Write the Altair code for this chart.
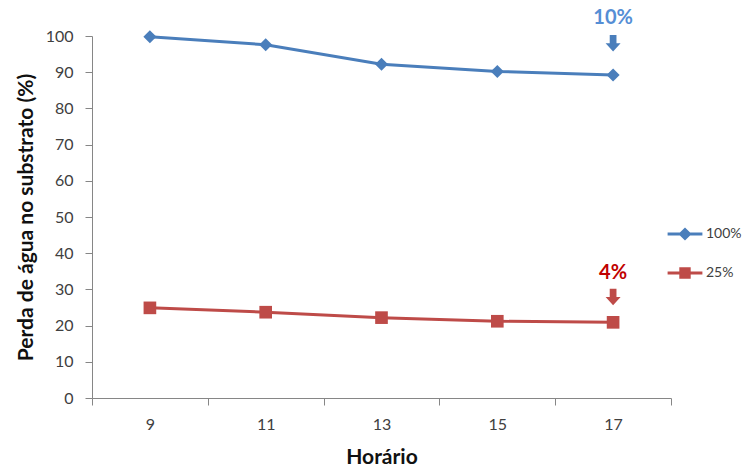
import altair as alt
import pandas as pd

# Water loss in the substrate over the day, two irrigation levels
horas = [9, 11, 13, 15, 17]
perda_100 = [99.8, 97.6, 92.2, 90.2, 89.2]
perda_25 = [24.9, 23.7, 22.2, 21.2, 20.9]
series = ["100%", "25%"]
cores = ["#4A7EBB", "#BE4B48"]

# Callouts above the last reading of each series
nota_texto = ["10%", "4%"]
nota_y_texto = [105.0, 34.5]
nota_y_seta = [98.0, 27.9]
nota_cor_texto = ["#558ED5", "#C00000"]

df = pd.DataFrame({
    "Horário": horas * 2,
    "Perda": perda_100 + perda_25,
    "Série": [series[0]] * len(horas) + [series[1]] * len(horas),
    "cor": [cores[0]] * len(horas) + [cores[1]] * len(horas),
})
notas = pd.DataFrame({
    "Horário": [horas[-1]] * 2,
    "texto": nota_texto,
    "cor": cores,
    "y_texto": nota_y_texto,
    "y_seta": nota_y_seta,
    "cor_texto": nota_cor_texto,
})

FONT = "Lato"

x_scale = alt.Scale(domain=[8, 18], nice=False, zero=False)
x_axis = alt.Axis(
    title="Horário",
    values=[8, 10, 12, 14, 16, 18],
    labelExpr="datum.value < 18 ? format(datum.value + 1, 'd') : ''",
    labelOffset=57.9,
    labelFlush=False,
    labelOverlap=False,
    grid=False,
    tickSize=7,
    labelPadding=11,
    titlePadding=14,
)
y_scale = alt.Scale(domain=[0, 100], nice=False)
y_axis = alt.Axis(
    title="Perda de água no substrato (%)",
    values=list(range(0, 101, 10)),
    labelOverlap=False,
    grid=False,
    tickSize=7,
    labelPadding=12,
    titlePadding=9,
)


def eixo_x():
    return alt.X("Horário:Q", scale=x_scale, axis=x_axis)


def eixo_y(campo):
    return alt.Y(f"{campo}:Q", scale=y_scale, axis=y_axis)


linhas = alt.Chart(df).mark_line(strokeWidth=3).encode(
    x=eixo_x(),
    y=eixo_y("Perda"),
    detail="Série:N",
    color=alt.Color("cor:N", scale=None),
)

losangos = alt.Chart(df).transform_filter(
    alt.datum["Série"] == series[0]
).mark_point(shape="diamond", filled=True, size=170, opacity=1, color=cores[0]).encode(
    x=eixo_x(), y=eixo_y("Perda")
)
quadrados = alt.Chart(df).transform_filter(
    alt.datum["Série"] == series[1]
).mark_point(shape="square", filled=True, size=160, opacity=1, color=cores[1]).encode(
    x=eixo_x(), y=eixo_y("Perda")
)

# Legend symbols: a line segment with the series marker in the middle
simbolo_100 = ("M-2.9,-0.25L-0.85,-0.25L0,-1.1L0.85,-0.25L2.9,-0.25"
               "L2.9,0.25L0.85,0.25L0,1.1L-0.85,0.25L-2.9,0.25Z")
simbolo_25 = ("M-2.9,-0.25L-0.95,-0.25L-0.95,-0.95L0.95,-0.95L0.95,-0.25"
              "L2.9,-0.25L2.9,0.25L0.95,0.25L0.95,0.95L-0.95,0.95L-0.95,0.25L-2.9,0.25Z")
legenda = alt.Legend(
    title=None,
    orient="none",
    legendX=586,
    legendY=191,
    padding=0,
    symbolSize=144,
    symbolStrokeWidth=0,
    symbolOpacity=1,
    labelOffset=14,
    rowPadding=25,
    labelFont=FONT,
    labelFontSize=14,
    labelColor="#404040",
)
chave = alt.Chart(df).mark_point(filled=True, opacity=0).encode(
    x=eixo_x(),
    y=eixo_y("Perda"),
    color=alt.Color("Série:N", scale=alt.Scale(domain=series, range=cores), legend=legenda),
    shape=alt.Shape("Série:N", scale=alt.Scale(domain=series, range=[simbolo_100, simbolo_25]),
                    legend=legenda),
)

seta = "M-0.45,-1.1L0.45,-1.1L0.45,0L1,0L0,1.1L-1,0L-0.45,0Z"
setas = alt.Chart(notas).mark_point(shape=seta, filled=True, size=225, opacity=1).encode(
    x=eixo_x(),
    y=eixo_y("y_seta"),
    color=alt.Color("cor:N", scale=None),
)
textos = alt.Chart(notas).mark_text(font=FONT, fontSize=20, fontWeight="bold").encode(
    x=eixo_x(),
    y=eixo_y("y_texto"),
    text="texto:N",
    color=alt.Color("cor_texto:N", scale=None),
)

chart = alt.layer(linhas, losangos, quadrados, chave, setas, textos).properties(
    width=579,
    height=362,
    autosize=alt.AutoSizeParams(type="none"),
    padding={"left": 92, "top": 36, "right": 74, "bottom": 70},
    background="white",
).configure_view(stroke=None).configure_axis(
    labelFont=FONT,
    labelFontSize=16,
    labelColor="#404040",
    titleFont=FONT,
    titleFontSize=21,
    titleFontWeight="bold",
    titleColor="#111111",
    domainColor="#868686",
    tickColor="#868686",
    domainWidth=1,
    tickWidth=1,
)

chart.save("out.html", embed_options={"renderer": "svg", "actions": False})
